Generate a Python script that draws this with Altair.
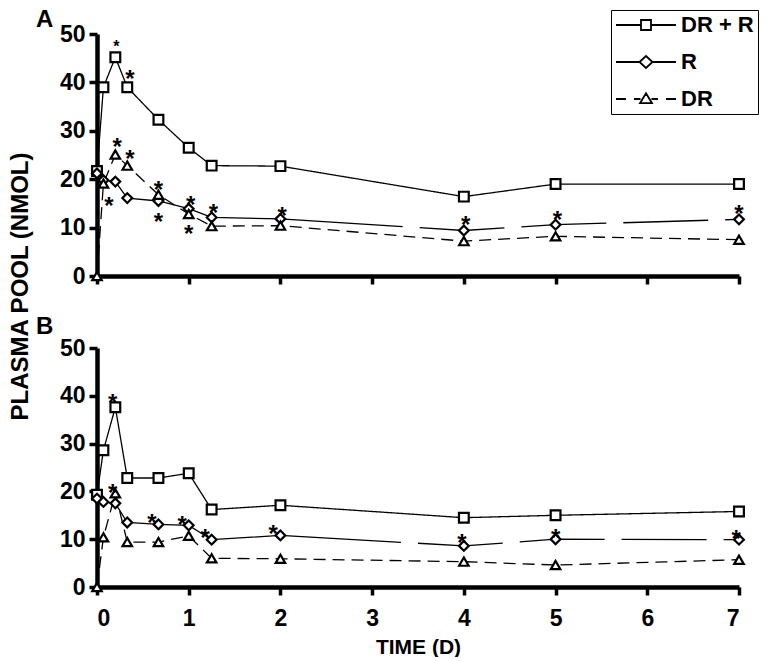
import altair as alt
import pandas as pd

# ---- data ----
times = [0, 0.07, 0.2, 0.33, 0.67, 1, 1.25, 2, 4, 5, 7]
series_names = ["DR + R", "R", "DR"]

a_drr = [21.7, 39.0, 45.2, 39.0, 32.3, 26.5, 22.8, 22.7, 16.4, 19.0, 19.0]
a_r = [21.2, 19.8, 19.5, 16.1, 15.5, 13.9, 12.1, 11.8, 9.4, 10.6, 11.7]
a_dr = [0.0, 19.1, 25.1, 22.8, 16.8, 12.8, 10.3, 10.4, 7.2, 8.2, 7.5]

b_drr = [19.3, 28.6, 37.6, 22.8, 22.8, 23.8, 16.2, 17.1, 14.5, 15.0, 15.8]
b_r = [18.5, 17.8, 17.5, 13.5, 13.1, 12.9, 9.9, 10.8, 8.6, 10.0, 9.9]
b_dr = [0.0, 10.4, 19.6, 9.4, 9.4, 10.7, 6.0, 5.9, 5.3, 4.6, 5.7]

# significance asterisks (time, value, font size)
a_star_t = [0.21, 0.36, 0.22, 0.36, 0.13, 0.67, 0.67, 1.02, 1.0, 1.27, 2.02, 4.02, 5.02, 7.0]
a_star_v = [48.5, 41.8, 27.6, 25.2, 15.4, 18.9, 12.2, 15.7, 9.7, 14.1, 13.4, 11.6, 12.7, 13.9]
a_star_fs = [16, 24, 24, 24, 24, 24, 24, 24, 24, 24, 24, 24, 24, 24]

b_star_t = [0.17, 0.17, 0.6, 0.93, 1.18, 1.92, 3.98, 5.0, 6.97]
b_star_v = [39.5, 20.8, 14.4, 14.0, 11.2, 12.2, 10.3, 11.4, 11.0]
b_star_fs = [24, 24, 24, 24, 24, 24, 24, 24, 24]

y_ticks = [0, 10, 20, 30, 40, 50]
x_ticks = [0, 1, 2, 3, 4, 5, 6, 7]

# ---- tables ----
rows = []
for panel, vals in (("A", (a_drr, a_r, a_dr)), ("B", (b_drr, b_r, b_dr))):
    for s, vs in zip(series_names, vals):
        for t, v in zip(times, vs):
            rows.append({"panel": panel, "series": s, "key": s, "t": t, "v": v})
df = pd.DataFrame(rows)

stars = pd.DataFrame(
    [{"panel": "A", "t": t, "v": v, "fs": f} for t, v, f in zip(a_star_t, a_star_v, a_star_fs)]
    + [{"panel": "B", "t": t, "v": v, "fs": f} for t, v, f in zip(b_star_t, b_star_v, b_star_fs)]
)

FONT = "Liberation Sans"
shapes = {"DR + R": "square", "R": "diamond", "DR": "triangle-up"}
sizes = {"DR + R": 95, "R": 95, "DR": 90}
dashes = [[1, 0], [320, 17, 85, 17, 85, 17, 85, 17, 85, 17], [12, 7]]

# legend keys: line sample with the marker in the middle
legend_paths = [
    "M-1,0H1.5M2.5,0H5M1.5,-0.5H2.5V0.5H1.5Z",
    "M-1,0H1.35M2.65,0H5M1.35,0L2,-0.6L2.65,0L2,0.6Z",
    "M-1,0H0M0.8,0H1.45M2.55,0H3.2M4,0H5M1.4,0.42L2,-0.58L2.6,0.42Z",
]


def panel(p, h, letter, bottom, title_dy):
    d = df[df.panel == p]
    x = alt.X(
        "t:Q",
        scale=alt.Scale(domain=[0, 7], nice=False, zero=False),
        axis=alt.Axis(
            values=x_ticks,
            labels=bottom,
            title="TIME (D)" if bottom else None,
            titlePadding=6,
            format="d",
        ),
    )
    if p == "A":
        yaxis = alt.Axis(
            values=y_ticks,
            title="PLASMA POOL (NMOL)",
            titleX=-77,
            titleY=252,
            titleAngle=270,
            titleAlign="center",
            titleBaseline="middle",
        )
    else:
        yaxis = alt.Axis(values=y_ticks, title=None)
    y = alt.Y("v:Q", scale=alt.Scale(domain=[0, 50], nice=False), axis=yaxis)

    base = alt.Chart(d)
    lines = base.mark_line(color="black", strokeWidth=1.3).encode(
        x=x,
        y=y,
        detail="series:N",
        strokeDash=alt.StrokeDash(
            "series:N",
            scale=alt.Scale(domain=series_names, range=dashes),
            legend=None,
        ),
    )
    layers = [lines]
    for s in series_names:
        layers.append(
            base.transform_filter(alt.datum.series == s)
            .mark_point(
                shape=shapes[s],
                filled=True,
                fill="white",
                stroke="black",
                strokeWidth=2.2,
                size=sizes[s],
                opacity=1,
            )
            .encode(x=x, y=y)
        )
    layers.append(
        alt.Chart(stars[stars.panel == p])
        .mark_text(text="*", font=FONT, fontWeight="bold", color="black", baseline="middle", dy=6)
        .encode(x=x, y=y, size=alt.Size("fs:Q", scale=None, legend=None))
    )
    if p == "A":
        # layer with no drawn marks that only carries the legend
        layers.insert(
            0,
            base.transform_filter("datum.t < 0")
            .mark_point(filled=False, color="black", strokeWidth=1.8)
            .encode(
                x=x,
                y=y,
                shape=alt.Shape(
                    "key:N",
                    scale=alt.Scale(domain=series_names, range=legend_paths),
                    legend=alt.Legend(
                        title=None,
                        orient="none",
                        legendX=514,
                        legendY=-24,
                        symbolSize=400,
                        symbolOpacity=1,
                        symbolStrokeWidth=1.8,
                        symbolStrokeColor="black",
                        symbolFillColor="white",
                        labelFont=FONT,
                        labelFontSize=22,
                        labelFontWeight="bold",
                        labelColor="black",
                        labelOffset=44,
                        padding=4,
                        rowPadding=15,
                        strokeColor="black",
                        fillColor="white",
                        cornerRadius=0,
                    ),
                ),
            )
        )
    return alt.layer(*layers).properties(
        width=642,
        height=h,
        title=alt.TitleParams(
            letter,
            anchor="start",
            frame="group",
            dx=-61,
            dy=title_dy,
            fontSize=24,
            font=FONT,
            fontWeight="bold",
            color="black",
            offset=0,
        ),
    )


chart = (
    alt.vconcat(
        panel("A", 242, "A", False, 22),
        panel("B", 239, "B", True, 2),
        spacing=72,
        bounds="flush",
    )
    .resolve_legend(shape="independent")
    .properties(padding={"left": 0, "top": -1, "right": 0, "bottom": 0})
    .configure_view(stroke=None)
    .configure_axis(
        domainColor="black",
        domainWidth=4.5,
        tickColor="black",
        tickWidth=3.5,
        tickSize=8,
        grid=False,
        labelFont=FONT,
        labelFontSize=23,
        labelFontWeight="bold",
        labelColor="black",
        labelPadding=4,
        titleFont=FONT,
        titleFontSize=21,
        titleFontWeight="bold",
        titleColor="black",
    )
    .configure_axisX(labelPadding=12)
    .configure_axisY(titleFontSize=24)
)

chart.save("out.html", embed_options={"renderer": "svg", "actions": False})
